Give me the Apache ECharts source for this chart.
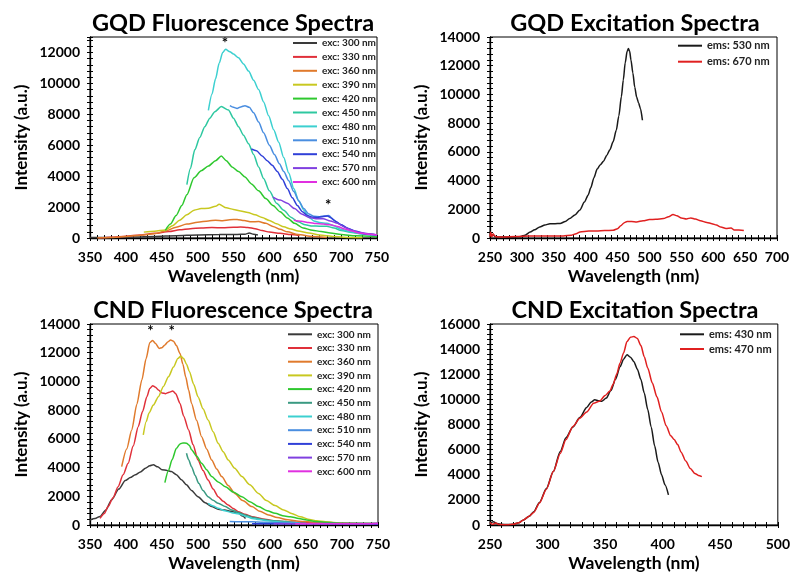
<!DOCTYPE html>
<html><head><meta charset="utf-8">
<script src="https://cdn.jsdelivr.net/npm/echarts@6/dist/echarts.min.js"></script>
<style>html,body{margin:0;padding:0;background:#fff}#c{width:793px;height:573px}</style>
</head><body><div id="c"></div>
<script>
// ---------- Tick / legend labels ----------
const excNames = ['exc: 300 nm','exc: 330 nm','exc: 360 nm','exc: 390 nm','exc: 420 nm','exc: 450 nm','exc: 480 nm','exc: 510 nm','exc: 540 nm','exc: 570 nm','exc: 600 nm'];
const gqdEmsNames = ['ems: 530 nm','ems: 670 nm'];
const cndEmsNames = ['ems: 430 nm','ems: 470 nm'];
const titles = ['GQD Fluorescence Spectra','GQD Excitation Spectra','CND Fluorescence Spectra','CND Excitation Spectra'];

// ---------- GQD fluorescence (nm, intensity) ----------
const gqd300 = [[350,30],[380,40],[410,60],[440,100],[470,150],[500,200],[530,220],[555,230],[566,240],[572,320],[578,250],[584,200]];
const gqd330 = [[362,0],[380,50],[400,120],[420,200],[440,300],[460,420],[475,530],[490,600],[505,650],[520,680],[535,660],[550,690],[560,710],[570,680],[580,600],[590,480],[600,380],[615,300],[630,220],[642,150]];
const gqd360 = [[360,0],[380,40],[400,100],[420,180],[440,280],[455,450],[470,700],[485,900],[500,1020],[515,1100],[525,1150],[535,1120],[545,1180],[555,1200],[565,1130],[575,1050],[585,1060],[595,950],[605,750],[615,560],[625,400],[640,220],[660,100],[680,40]];
const gqd390 = [[425,380],[440,440],[455,520],[465,800],[475,1150],[485,1500],[495,1800],[505,1900],[515,1920],[525,2050],[530,2180],[540,1950],[550,1850],[560,1750],[570,1650],[580,1500],[590,1330],[600,1130],[610,920],[620,720],[630,580],[640,450],[655,320],[670,200],[690,100],[710,40],[730,20]];
const gqd420 = [[455,490],[462,900],[470,1450],[478,2100],[485,2800],[495,3900],[505,4350],[515,4650],[525,5000],[533,5300],[540,5000],[548,4600],[557,4300],[566,3950],[575,3500],[585,3050],[595,2550],[605,2100],[615,1700],[625,1300],[635,950],[647,650],[660,500],[672,420],[685,330],[700,230],[720,140],[750,80]];
const gqd450 = [[485,3450],[490,4500],[496,5700],[503,6500],[510,7200],[517,7750],[524,8170],[533,8500],[543,8280],[550,7750],[557,7200],[564,6650],[571,6100],[578,5400],[585,4600],[592,3850],[600,3050],[610,2250],[620,1800],[630,1350],[640,1050],[650,850],[660,780],[670,760],[680,760],[690,650],[700,480],[715,350],[730,250],[750,150]];
const gqd480 = [[515,8250],[520,9300],[525,10300],[530,11300],[535,12000],[539,12200],[545,12050],[550,11900],[557,11650],[564,11250],[571,10800],[578,10200],[585,9600],[592,8800],[599,7900],[606,7000],[613,6200],[620,5200],[627,4200],[634,3200],[641,2400],[648,1800],[655,1350],[662,1100],[670,1000],[680,950],[690,800],[700,550],[715,380],[730,260],[750,180]];
const gqd510 = [[545,8560],[550,8450],[555,8380],[560,8480],[566,8560],[572,8450],[578,8100],[585,7500],[592,6800],[600,6000],[607,5400],[614,4800],[620,4300],[627,3700],[634,3000],[641,2400],[648,1900],[655,1550],[662,1400],[670,1380],[677,1420],[683,1450],[690,1150],[700,850],[710,600],[720,400],[735,250],[750,170]];
const gqd540 = [[575,5760],[582,5650],[590,5300],[597,5000],[604,4700],[611,4300],[618,3800],[625,3200],[632,2600],[639,2100],[646,1700],[653,1450],[660,1350],[667,1330],[674,1380],[681,1420],[686,1300],[693,1050],[700,850],[710,620],[720,430],[735,260],[750,200]];
const gqd570 = [[605,2650],[615,2450],[625,2250],[635,1900],[645,1550],[655,1330],[665,1250],[675,1250],[685,1100],[695,950],[705,700],[715,500],[725,370],[738,270],[750,200]];
const gqd600 = [[634,1150],[645,1080],[655,1000],[665,930],[675,900],[685,850],[695,750],[705,580],[715,450],[725,330],[738,250],[750,200]];
const gqdStars = [[538,12600],[682,2130]];

// ---------- GQD excitation ----------
const gqdEx530 = [[250,450],[252,150],[255,250],[258,80],[265,70],[280,60],[297,80],[305,200],[313,420],[320,580],[328,770],[336,900],[344,1000],[352,1000],[360,1010],[368,1150],[375,1360],[383,1600],[391,1950],[398,2500],[404,3000],[408,3500],[413,4200],[418,4800],[423,5100],[428,5350],[433,5750],[438,6150],[443,6700],[448,7500],[452,8500],[456,9850],[459,11000],[462,12200],[465,13000],[467,13200],[469,13000],[471,12400],[474,11500],[477,10500],[480,9800],[483,9400],[486,9000],[489,8200]];
const gqdEx670 = [[250,100],[251,400],[253,80],[255,300],[257,150],[260,80],[270,70],[290,100],[312,140],[340,140],[365,140],[378,200],[385,300],[391,420],[405,480],[417,490],[430,520],[443,540],[450,650],[455,850],[460,1050],[465,1150],[472,1150],[480,1120],[490,1200],[500,1280],[510,1300],[522,1350],[530,1480],[537,1630],[543,1550],[550,1400],[558,1330],[565,1400],[572,1320],[580,1200],[590,1080],[598,1000],[605,900],[612,760],[620,660],[628,700],[633,560],[640,560],[648,530]];

// ---------- CND fluorescence ----------
const cnd300 = [[350,350],[357,450],[364,600],[372,1050],[380,1750],[390,2500],[399,3100],[406,3300],[413,3500],[420,3700],[427,3950],[433,4130],[438,4200],[444,4050],[450,3850],[457,3800],[463,3720],[470,3500],[477,3150],[484,2800],[491,2400],[500,1970],[510,1550],[519,1280],[528,1100],[537,1040],[546,950],[556,810],[562,620],[566,450]];
const cnd330 = [[364,460],[370,800],[375,1280],[382,1900],[389,2670],[396,3500],[403,4300],[410,5500],[417,6850],[423,7900],[429,8940],[433,9500],[437,9700],[441,9600],[445,9400],[450,9200],[455,9150],[460,9250],[465,9330],[469,9150],[475,8470],[480,7600],[487,6620],[493,5600],[500,4530],[507,3800],[514,3130],[521,2500],[528,1970],[535,1650],[542,1390],[549,1150],[556,930],[565,750],[575,580],[590,420],[605,300],[620,230],[650,150],[700,100],[750,80]];
const cnd360 = [[394,4060],[401,5300],[408,6620],[415,8400],[422,10100],[428,11600],[433,12700],[437,12850],[441,12650],[446,12300],[450,12350],[454,12540],[458,12750],[462,12880],[466,12800],[470,12500],[475,11950],[479,11200],[483,10300],[487,9400],[491,8470],[498,7300],[505,6150],[512,5300],[519,4530],[526,3900],[533,3370],[542,2750],[551,2200],[562,1700],[575,1280],[586,950],[598,700],[610,520],[625,360],[640,260],[665,180],[700,120],[750,100]];
const cnd390 = [[424,6270],[428,7200],[432,7800],[438,8350],[445,8940],[452,9650],[459,10330],[466,11000],[472,11600],[476,11750],[480,11600],[484,11200],[488,10700],[494,9800],[500,8940],[507,8100],[514,7310],[521,6500],[528,5690],[535,5100],[542,4530],[551,3950],[561,3370],[572,2800],[584,2200],[595,1700],[607,1350],[619,1050],[630,800],[642,580],[655,380],[665,300],[677,230],[688,180],[711,110],[750,60]];
const cnd420 = [[454,2950],[459,3800],[464,4550],[470,5340],[475,5650],[479,5720],[484,5700],[488,5550],[491,5250],[498,4800],[505,4300],[512,3850],[519,3370],[528,3000],[538,2670],[549,2300],[561,1970],[572,1620],[584,1280],[596,1000],[607,810],[620,620],[628,580],[640,460],[651,350],[663,250],[675,190],[700,130],[750,100]];
const cnd450 = [[484,5000],[487,4550],[491,4060],[496,3450],[501,2900],[507,2400],[514,1970],[521,1720],[528,1510],[538,1280],[547,1050],[556,870],[565,700],[577,530],[588,400],[600,320],[612,280],[630,200],[642,120]];
const cnd480 = [[514,1510],[521,1330],[528,1160],[537,1000],[547,860],[556,780],[561,700],[568,580],[575,460],[585,390],[595,300],[608,240],[620,190],[642,120]];
const cnd510 = [[544,240],[560,230],[575,230],[590,200],[611,160],[630,140],[650,120]];
const cnd540 = [[575,80],[590,90],[610,100],[630,90],[660,80],[700,70],[750,60]];
const cnd570 = [[605,80],[630,90],[660,100],[690,110],[720,100],[750,120]];
const cnd600 = [[635,90],[660,80],[690,90],[720,80],[750,110]];
const cndStars = [[434,13510],[463.5,13510]];

// ---------- CND excitation ----------
const cndEx430 = [[250,130],[253,250],[256,120],[260,50],[265,30],[270,50],[275,180],[279,400],[284,700],[288,1060],[293,1800],[299,2900],[305,4250],[311,5850],[316,6950],[322,7800],[328,8550],[334,9350],[338,9800],[341,9970],[344,9900],[347,9850],[351,10100],[355,10700],[359,11600],[363,12600],[366,13200],[369,13550],[372,13350],[375,13000],[378,12400],[381,11600],[384,10500],[387,9200],[390,7800],[393,6300],[396,5000],[399,4000],[402,3200],[405,2400]];
const cndEx470 = [[250,200],[252,50],[255,150],[258,30],[265,20],[270,50],[275,180],[279,400],[284,700],[288,1000],[293,1750],[299,2850],[305,4250],[311,5700],[316,6800],[322,7850],[328,8500],[334,9000],[340,9700],[345,9850],[350,10300],[354,10650],[357,11200],[360,12000],[363,12900],[366,13700],[369,14600],[372,14950],[375,15000],[378,14850],[381,14300],[384,13400],[387,12500],[391,11300],[395,10200],[399,9000],[403,7900],[407,7100],[410,6800],[413,6400],[416,5800],[420,5100],[424,4500],[428,4100],[431,3950],[434,3850]];

// ---------- styling ----------
const gqdColors = ['#3a3a3a','#e0303a','#e07a2c','#c8c820','#2ec82e','#2ec8a0','#3cd0d0','#4a8ee0','#3040d8','#8040e0','#e030e0'];
const cndColors = ['#3a3a3a','#e0303a','#e07a2c','#c8c820','#2ec82e','#3a9a82','#3cd0d0','#4a8ee0','#3040d8','#8040e0','#e030e0'];
const exColors = ['#1a1a1a','#e02020'];
const FONT = 'Lato';

const gqdFluo = [gqd300,gqd330,gqd360,gqd390,gqd420,gqd450,gqd480,gqd510,gqd540,gqd570,gqd600];
const cndFluo = [cnd300,cnd330,cnd360,cnd390,cnd420,cnd450,cnd480,cnd510,cnd540,cnd570,cnd600];

const panels = [
  {left:90, top:37, width:287, height:201, xMin:350, xMax:750, yMax:13000, showMax:false},
  {left:490, top:37, width:287, height:201, xMin:250, xMax:700, yMax:14000, showMax:true},
  {left:90, top:324, width:288, height:201, xMin:350, xMax:750, yMax:14000, showMax:true},
  {left:490, top:324, width:288, height:201, xMin:250, xMax:500, yMax:16000, showMax:true}
];

const grid = [], xAxis = [], yAxis = [];
const black = '#000';
panels.forEach((p, i) => {
  grid.push({left:p.left, top:p.top, width:p.width, height:p.height, show:true, borderColor:black, borderWidth:1, containLabel:false});
  xAxis.push({gridIndex:i, type:'value', position:'bottom', min:p.xMin, max:p.xMax, interval:50,
    axisLine:{show:true, onZero:false, lineStyle:{color:black, width:1.3}},
    axisTick:{show:true, length:3, lineStyle:{color:black, width:1}},
    minorTick:{show:true, splitNumber:5, length:3, lineStyle:{color:black, width:1}},
    splitLine:{show:false},
    axisLabel:{color:black, fontFamily:FONT, fontWeight:'bold', fontSize:14, margin:12},
    name:'Wavelength (nm)', nameLocation:'middle', nameGap:29,
    nameTextStyle:{color:black, fontFamily:FONT, fontWeight:'bold', fontSize:17.5}});
  xAxis.push({gridIndex:i, type:'value', position:'bottom', min:p.xMin, max:p.xMax, interval:50,
    axisLine:{show:false}, axisLabel:{show:false}, splitLine:{show:false},
    axisTick:{show:true, inside:true, length:3, lineStyle:{color:black, width:1}},
    minorTick:{show:true, splitNumber:5, length:3, lineStyle:{color:black, width:1}}});
  yAxis.push({gridIndex:i, type:'value', position:'left', min:0, max:p.yMax, interval:2000,
    axisLine:{show:true, onZero:false, lineStyle:{color:black, width:1.3}},
    axisTick:{show:true, length:3, lineStyle:{color:black, width:1}},
    minorTick:{show:true, splitNumber:5, length:3, lineStyle:{color:black, width:1}},
    splitLine:{show:false},
    axisLabel:{color:black, fontFamily:FONT, fontWeight:'bold', fontSize:14, margin:10,
      showMaxLabel:p.showMax, formatter:(v)=>String(v)},
    name:'Intensity (a.u.)', nameLocation:'middle', nameGap:60,
    nameTextStyle:{color:black, fontFamily:FONT, fontWeight:'bold', fontSize:17}});
  yAxis.push({gridIndex:i, type:'value', position:'left', min:0, max:p.yMax, interval:2000,
    axisLine:{show:false}, axisLabel:{show:false}, splitLine:{show:false},
    axisTick:{show:true, inside:true, length:3, lineStyle:{color:black, width:1}},
    minorTick:{show:true, splitNumber:5, length:3, lineStyle:{color:black, width:1}}});
});

const series = [];
function addLine(name, data, color, panel, extra) {
  const s = {type:'line', name, data, xAxisIndex:panel*2, yAxisIndex:panel*2, symbol:'none',
    smooth:0.25, smoothMonotone:'x', lineStyle:{color, width:1.5}, itemStyle:{color}, silent:true, animation:false};
  if (extra) Object.assign(s, extra);
  series.push(s);
}
const starMark = (pts) => ({markPoint:{symbol:'circle', symbolSize:0, silent:true, animation:false,
  label:{show:true, formatter:'*', color:black, fontFamily:FONT, fontWeight:'bold', fontSize:15},
  data: pts.map(c => ({coord:c}))}});

gqdFluo.forEach((d, k) => addLine(excNames[k], d, gqdColors[k], 0, k === 0 ? starMark(gqdStars) : null));
addLine(gqdEmsNames[0], gqdEx530, exColors[0], 1);
addLine(gqdEmsNames[1], gqdEx670, exColors[1], 1);
cndFluo.forEach((d, k) => addLine(excNames[k], d, cndColors[k], 2, k === 0 ? starMark(cndStars) : null));
addLine(cndEmsNames[0], cndEx430, exColors[0], 3);
addLine(cndEmsNames[1], cndEx470, exColors[1], 3);

const barIcon = 'path://M0 0H24V2H0Z';
function legendFor(names, colors, left, top, gap, fs) {
  return {data: names.map((n, k) => ({name:n, icon:barIcon, itemStyle:{color:colors[k]}})),
    orient:'vertical', left, top, itemWidth:24, itemHeight:2, itemGap:gap, padding:0, selectedMode:false,
    textStyle:{fontFamily:FONT, fontWeight:'bold', fontSize:fs, lineHeight:fs, color:'#222'}};
}
const legend = [
  legendFor(excNames, gqdColors, 293, 38, 3.9, 10),
  legendFor(gqdEmsNames, exColors, 678, 40.2, 5, 11),
  legendFor(excNames, cndColors, 288, 329.3, 3.7, 10),
  legendFor(cndEmsNames, exColors, 680, 328.8, 3.7, 11)
];

const titleCenters = [[233,23],[635,23],[233,310],[635,310]];
const graphic = titles.map((t, k) => ({type:'text', x:titleCenters[k][0], y:titleCenters[k][1], silent:true,
  style:{text:t, fill:black, font:'bold 23.5px ' + FONT, textAlign:'center', textVerticalAlign:'middle'}}));

const chart = echarts.init(document.getElementById('c'), null, {renderer:'canvas'});
chart.setOption({animation:false, backgroundColor:'#fff', grid, xAxis, yAxis, series, legend, graphic});
</script></body></html>
